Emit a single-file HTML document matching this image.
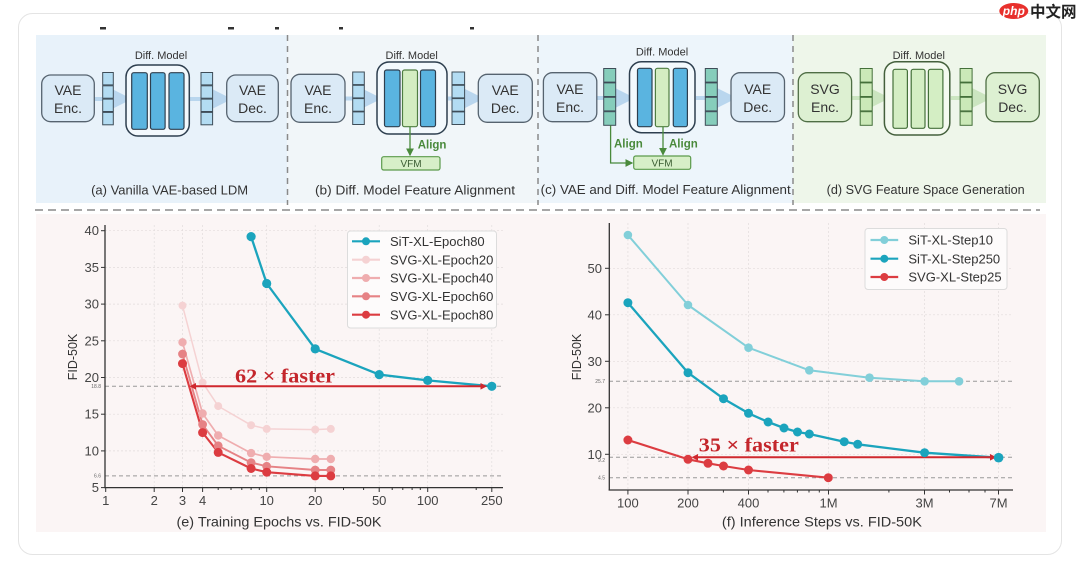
<!DOCTYPE html>
<html><head><meta charset="utf-8">
<style>
html,body{margin:0;padding:0;background:#fff;}
svg{display:block;}
text{font-family:"Liberation Sans","Noto Sans CJK SC",sans-serif;}
.tk{font-size:13px;fill:#444;}
.cap{font-size:12.5px;fill:#333;}
.lab{font-size:14px;fill:#333;}
.box{font-size:14px;fill:#333;text-anchor:middle;}
.dm{font-size:11px;fill:#333;text-anchor:middle;}
.al{font-size:11.5px;font-weight:bold;fill:#4a8a3c;}
.lg{font-size:13px;fill:#333;}
.sm{font-size:5px;fill:#666;}
.fast{font-family:"Liberation Serif","Noto Serif CJK SC",serif;font-weight:bold;font-size:20px;fill:#c4262c;}
</style></head>
<body>
<svg width="1080" height="567" viewBox="0 0 1080 567" xmlns="http://www.w3.org/2000/svg">
<defs>
<marker id="ahb" markerWidth="6" markerHeight="6" refX="4" refY="3" orient="auto"><path d="M0,0 L6,3 L0,6 z" fill="#b9d6ee"/></marker>
<marker id="ahg" markerWidth="6" markerHeight="6" refX="4" refY="3" orient="auto"><path d="M0,0 L6,3 L0,6 z" fill="#cbe5c0"/></marker>
<marker id="ahd" markerWidth="6" markerHeight="6" refX="5" refY="3" orient="auto"><path d="M0,0 L6,3 L0,6 z" fill="#4a8a3c"/></marker>
</defs>
<rect x="0" y="0" width="1080" height="567" fill="#fff"/>
<rect x="18.5" y="13.5" width="1043" height="541" rx="14" fill="#fff" stroke="#e4e4e4" stroke-width="1"/>

<g fill="#333">
<rect x="100" y="27" width="6" height="2.5"/><rect x="228" y="27" width="6" height="2.5"/>
<rect x="275" y="27" width="4" height="2.5"/><rect x="339" y="27" width="4" height="2.5"/>
<rect x="470" y="27" width="4" height="2.5"/>
</g>

<rect x="36" y="35" width="251" height="168" fill="#e8f2fa"/>
<rect x="287" y="35" width="251" height="168" fill="#f1f6f9"/>
<rect x="538" y="35" width="255" height="168" fill="#edf5fb"/>
<rect x="793" y="35" width="253" height="168" fill="#eef6ea"/>
<g stroke="#8a8a8a" stroke-width="1.5" stroke-dasharray="6,5">
<line x1="287.5" y1="35" x2="287.5" y2="205"/>
<line x1="538" y1="35" x2="538" y2="205"/>
<line x1="793" y1="35" x2="793" y2="205"/>
</g>
<line x1="35" y1="210" x2="1040" y2="210" stroke="#8a8a8a" stroke-width="1.6" stroke-dasharray="8,5"/>

<!-- (a) -->
<g>
<line x1="95" y1="99" x2="124" y2="99" stroke="#b9d6ee" stroke-width="4" marker-end="url(#ahb)"/>
<line x1="190" y1="99" x2="224" y2="99" stroke="#b9d6ee" stroke-width="4" marker-end="url(#ahb)"/>
<rect x="41.7" y="75" width="52.6" height="46.7" rx="9" fill="#dbeaf6" stroke="#56636f" stroke-width="1.3"/>
<text class="box" x="68" y="95">VAE</text><text class="box" x="68" y="113">Enc.</text>
<g fill="#b3dcf2" stroke="#3e4d58" stroke-width="1">
<rect x="102.7" y="72.5" width="10.6" height="12.4"/><rect x="102.7" y="85.8" width="10.6" height="12.4"/><rect x="102.7" y="99.1" width="10.6" height="12.4"/><rect x="102.7" y="112.4" width="10.6" height="12.4"/>
<rect x="201" y="72.5" width="11.6" height="12.4"/><rect x="201" y="85.8" width="11.6" height="12.4"/><rect x="201" y="99.1" width="11.6" height="12.4"/><rect x="201" y="112.4" width="11.6" height="12.4"/>
</g>
<rect x="126" y="65" width="63.3" height="71" rx="12" fill="#f3f9fd" stroke="#2e3f4f" stroke-width="1.5"/>
<g fill="#5ab4e0" stroke="#2e3f4f" stroke-width="1.2">
<rect x="131.7" y="72.7" width="15.6" height="56.6" rx="2"/><rect x="150.5" y="72.7" width="14.6" height="56.6" rx="2"/><rect x="169" y="72.7" width="15" height="56.6" rx="2"/>
</g>
<text class="dm" x="161" y="59">Diff. Model</text>
<rect x="226.7" y="75" width="51.6" height="46.7" rx="9" fill="#dbeaf6" stroke="#56636f" stroke-width="1.3"/>
<text class="box" x="252.5" y="95">VAE</text><text class="box" x="252.5" y="113">Dec.</text>
<text class="cap" x="169.6" y="194.5" text-anchor="middle" textLength="157" lengthAdjust="spacingAndGlyphs">(a) Vanilla VAE-based LDM</text>
</g>

<!-- (b) -->
<g>
<line x1="345" y1="98.5" x2="374" y2="98.5" stroke="#b9d6ee" stroke-width="4" marker-end="url(#ahb)"/>
<line x1="448" y1="98.5" x2="476" y2="98.5" stroke="#b9d6ee" stroke-width="4" marker-end="url(#ahb)"/>
<rect x="291" y="74.3" width="54" height="48" rx="9" fill="#dbeaf6" stroke="#56636f" stroke-width="1.3"/>
<text class="box" x="318" y="95">VAE</text><text class="box" x="318" y="113">Enc.</text>
<g fill="#b3dcf2" stroke="#3e4d58" stroke-width="1">
<rect x="352.7" y="72" width="11.6" height="12.6"/><rect x="352.7" y="85.3" width="11.6" height="12.6"/><rect x="352.7" y="98.6" width="11.6" height="12.6"/><rect x="352.7" y="111.9" width="11.6" height="12.6"/>
<rect x="452" y="72" width="12.6" height="12.6"/><rect x="452" y="85.3" width="12.6" height="12.6"/><rect x="452" y="98.6" width="12.6" height="12.6"/><rect x="452" y="111.9" width="12.6" height="12.6"/>
</g>
<rect x="377" y="62" width="70" height="72" rx="12" fill="#f3f9fd" stroke="#2e3f4f" stroke-width="1.5"/>
<rect x="384.5" y="70" width="15.5" height="56.7" rx="2" fill="#5ab4e0" stroke="#2e3f4f" stroke-width="1.2"/>
<rect x="402.5" y="70" width="15" height="56.7" rx="2" fill="#d4edc2" stroke="#4f7d42" stroke-width="1.2"/>
<rect x="420.5" y="70" width="15" height="56.7" rx="2" fill="#5ab4e0" stroke="#2e3f4f" stroke-width="1.2"/>
<text class="dm" x="411.7" y="59">Diff. Model</text>
<line x1="410" y1="126.7" x2="410" y2="155" stroke="#4a8a3c" stroke-width="1.3" marker-end="url(#ahd)"/>
<text class="al" x="417.7" y="148.5">Align</text>
<rect x="381.7" y="156.7" width="58.3" height="13.3" rx="2" fill="#d7efc8" stroke="#5b9a4b" stroke-width="1.2"/>
<text x="411" y="167" font-size="10" fill="#3b5d33" text-anchor="middle">VFM</text>
<rect x="478.3" y="74.3" width="54" height="48" rx="9" fill="#dbeaf6" stroke="#56636f" stroke-width="1.3"/>
<text class="box" x="505.3" y="95">VAE</text><text class="box" x="505.3" y="113">Dec.</text>
<text class="cap" x="415" y="194.5" text-anchor="middle" textLength="200" lengthAdjust="spacingAndGlyphs">(b) Diff. Model Feature Alignment</text>
</g>

<!-- (c) -->
<g>
<line x1="597" y1="98" x2="627" y2="98" stroke="#b9d6ee" stroke-width="4" marker-end="url(#ahb)"/>
<line x1="696" y1="98" x2="729" y2="98" stroke="#b9d6ee" stroke-width="4" marker-end="url(#ahb)"/>
<rect x="543.4" y="72.7" width="53.4" height="49" rx="9" fill="#dbeaf6" stroke="#56636f" stroke-width="1.3"/>
<text class="box" x="570" y="94">VAE</text><text class="box" x="570" y="112">Enc.</text>
<g fill="#86cdbb" stroke="#3e4d58" stroke-width="1">
<rect x="603.7" y="68.5" width="12" height="13.6"/><rect x="603.7" y="82.9" width="12" height="13.6"/><rect x="603.7" y="97.3" width="12" height="13.6"/><rect x="603.7" y="111.7" width="12" height="13.6"/>
<rect x="705.3" y="68.5" width="12" height="13.6"/><rect x="705.3" y="82.9" width="12" height="13.6"/><rect x="705.3" y="97.3" width="12" height="13.6"/><rect x="705.3" y="111.7" width="12" height="13.6"/>
</g>
<rect x="629.5" y="61.7" width="65.5" height="71" rx="12" fill="#f3f9fd" stroke="#2e3f4f" stroke-width="1.5"/>
<rect x="637.5" y="68.3" width="14.5" height="58.4" rx="2" fill="#5ab4e0" stroke="#2e3f4f" stroke-width="1.2"/>
<rect x="655.4" y="68.3" width="13.6" height="58.4" rx="2" fill="#d4edc2" stroke="#4f7d42" stroke-width="1.2"/>
<rect x="673.3" y="68.3" width="14.1" height="58.4" rx="2" fill="#5ab4e0" stroke="#2e3f4f" stroke-width="1.2"/>
<text class="dm" x="662" y="55.5">Diff. Model</text>
<polyline points="610.6,125.5 610.6,163 632,163" fill="none" stroke="#4a8a3c" stroke-width="1.3" marker-end="url(#ahd)"/>
<line x1="663" y1="126.7" x2="663" y2="154.5" stroke="#4a8a3c" stroke-width="1.3" marker-end="url(#ahd)"/>
<text class="al" x="614" y="147.5">Align</text>
<text class="al" x="669" y="147.5">Align</text>
<rect x="633.7" y="156" width="57" height="13.3" rx="2" fill="#d7efc8" stroke="#5b9a4b" stroke-width="1.2"/>
<text x="662" y="166.5" font-size="10" fill="#3b5d33" text-anchor="middle">VFM</text>
<rect x="731" y="72.7" width="53.5" height="49" rx="9" fill="#dbeaf6" stroke="#56636f" stroke-width="1.3"/>
<text class="box" x="757.7" y="94">VAE</text><text class="box" x="757.7" y="112">Dec.</text>
<text class="cap" x="665.7" y="194" text-anchor="middle" textLength="250" lengthAdjust="spacingAndGlyphs">(c) VAE and Diff. Model Feature Alignment</text>
</g>

<!-- (d) -->
<g>
<line x1="852" y1="98" x2="882" y2="98" stroke="#cbe5c0" stroke-width="4" marker-end="url(#ahg)"/>
<line x1="951" y1="98" x2="984" y2="98" stroke="#cbe5c0" stroke-width="4" marker-end="url(#ahg)"/>
<rect x="798.3" y="72.7" width="53.3" height="49" rx="9" fill="#ddf0d2" stroke="#4f6e45" stroke-width="1.3"/>
<text class="box" x="825" y="94">SVG</text><text class="box" x="825" y="112">Enc.</text>
<g fill="#cbe9b8" stroke="#44703a" stroke-width="1">
<rect x="860.2" y="68.5" width="12" height="13.6"/><rect x="860.2" y="82.9" width="12" height="13.6"/><rect x="860.2" y="97.3" width="12" height="13.6"/><rect x="860.2" y="111.7" width="12" height="13.6"/>
<rect x="960.1" y="68.5" width="12" height="13.6"/><rect x="960.1" y="82.9" width="12" height="13.6"/><rect x="960.1" y="97.3" width="12" height="13.6"/><rect x="960.1" y="111.7" width="12" height="13.6"/>
</g>
<rect x="884.4" y="61.7" width="65.4" height="73.3" rx="12" fill="#f4faf0" stroke="#44603c" stroke-width="1.5"/>
<g fill="#d4eec4" stroke="#44703a" stroke-width="1.2">
<rect x="893" y="69.3" width="14.4" height="59" rx="2"/><rect x="911.2" y="69.3" width="13.8" height="59" rx="2"/><rect x="928.4" y="69.3" width="14.5" height="59" rx="2"/>
</g>
<text class="dm" x="918.8" y="59">Diff. Model</text>
<rect x="986" y="72.7" width="53.3" height="49" rx="9" fill="#ddf0d2" stroke="#4f6e45" stroke-width="1.3"/>
<text class="box" x="1012.6" y="94">SVG</text><text class="box" x="1012.6" y="112">Dec.</text>
<text class="cap" x="925.7" y="194" text-anchor="middle" textLength="198" lengthAdjust="spacingAndGlyphs">(d) SVG Feature Space Generation</text>
</g>

<rect x="36" y="214" width="1010" height="318" fill="#fbf5f5"/>

<!-- ===== LEFT CHART ===== -->
<g stroke="#e2dcdc" stroke-width="0.7" stroke-dasharray="2,2">
<line x1="105" y1="230.7" x2="503" y2="230.7"/><line x1="105" y1="267.4" x2="503" y2="267.4"/>
<line x1="105" y1="304.1" x2="503" y2="304.1"/><line x1="105" y1="340.8" x2="503" y2="340.8"/>
<line x1="105" y1="377.5" x2="503" y2="377.5"/><line x1="105" y1="414.2" x2="503" y2="414.2"/>
<line x1="105" y1="450.9" x2="503" y2="450.9"/>
<line x1="154.2" y1="225" x2="154.2" y2="487"/><line x1="266.7" y1="225" x2="266.7" y2="487"/>
<line x1="315.2" y1="225" x2="315.2" y2="487"/><line x1="427.7" y1="225" x2="427.7" y2="487"/>
<line x1="182.5" y1="225" x2="182.5" y2="487"/><line x1="202.6" y1="225" x2="202.6" y2="487"/>
<line x1="379.2" y1="225" x2="379.2" y2="487"/><line x1="491.8" y1="225" x2="491.8" y2="487"/>
</g>
<g stroke="#999" stroke-width="1" stroke-dasharray="4,3">
<line x1="105" y1="386.3" x2="503" y2="386.3"/>
<line x1="105" y1="475.9" x2="503" y2="475.9"/>
</g>
<text class="sm" x="101" y="388" text-anchor="end">18.8</text>
<text class="sm" x="101" y="477.5" text-anchor="end">6.6</text>
<g stroke="#333" stroke-width="1.3">
<line x1="105" y1="225" x2="105" y2="488"/>
<line x1="104.4" y1="487.6" x2="503" y2="487.6"/>
</g>
<g stroke="#333" stroke-width="1">
<line x1="101" y1="230.7" x2="105" y2="230.7"/><line x1="101" y1="267.4" x2="105" y2="267.4"/><line x1="101" y1="304.1" x2="105" y2="304.1"/><line x1="101" y1="340.8" x2="105" y2="340.8"/><line x1="101" y1="377.5" x2="105" y2="377.5"/><line x1="101" y1="414.2" x2="105" y2="414.2"/><line x1="101" y1="450.9" x2="105" y2="450.9"/><line x1="101" y1="487.6" x2="105" y2="487.6"/>
<line x1="105.7" y1="487.6" x2="105.7" y2="492"/><line x1="154.2" y1="487.6" x2="154.2" y2="492"/><line x1="182.5" y1="487.6" x2="182.5" y2="492"/><line x1="202.6" y1="487.6" x2="202.6" y2="492"/><line x1="266.7" y1="487.6" x2="266.7" y2="492"/><line x1="315.2" y1="487.6" x2="315.2" y2="492"/><line x1="379.2" y1="487.6" x2="379.2" y2="492"/><line x1="427.7" y1="487.6" x2="427.7" y2="492"/><line x1="491.8" y1="487.6" x2="491.8" y2="492"/>
<line x1="218.2" y1="487.6" x2="218.2" y2="490"/><line x1="231" y1="487.6" x2="231" y2="490"/><line x1="241.8" y1="487.6" x2="241.8" y2="490"/><line x1="251.1" y1="487.6" x2="251.1" y2="490"/><line x1="259.3" y1="487.6" x2="259.3" y2="490"/><line x1="343.5" y1="487.6" x2="343.5" y2="490"/><line x1="363.6" y1="487.6" x2="363.6" y2="490"/><line x1="392.2" y1="487.6" x2="392.2" y2="490"/><line x1="402.8" y1="487.6" x2="402.8" y2="490"/><line x1="412.1" y1="487.6" x2="412.1" y2="490"/><line x1="420.3" y1="487.6" x2="420.3" y2="490"/><line x1="476.2" y1="487.6" x2="476.2" y2="490"/>
</g>
<g text-anchor="end">
<text class="tk" x="99" y="235.2">40</text><text class="tk" x="99" y="271.9">35</text><text class="tk" x="99" y="308.6">30</text><text class="tk" x="99" y="345.3">25</text><text class="tk" x="99" y="382">20</text><text class="tk" x="99" y="418.7">15</text><text class="tk" x="99" y="455.4">10</text><text class="tk" x="99" y="492.1">5</text>
</g>
<g text-anchor="middle">
<text class="tk" x="105.7" y="505">1</text><text class="tk" x="154.2" y="505">2</text><text class="tk" x="182.5" y="505">3</text><text class="tk" x="202.6" y="505">4</text><text class="tk" x="266.7" y="505">10</text><text class="tk" x="315.2" y="505">20</text><text class="tk" x="379.2" y="505">50</text><text class="tk" x="427.7" y="505">100</text><text class="tk" x="491.8" y="505">250</text>
</g>
<text class="lab" x="279" y="526.5" text-anchor="middle" textLength="205" lengthAdjust="spacingAndGlyphs">(e) Training Epochs vs. FID-50K</text>
<text x="77" y="357" font-size="12.5" fill="#333" text-anchor="middle" transform="rotate(-90 77 357)">FID-50K</text>

<g fill="none" stroke-linejoin="round">
<polyline points="182.5,305.6 202.6,382.6 218.2,406.1 251.1,425.2 266.7,428.9 315.2,429.6 330.8,428.9" stroke="#f5d2d3" stroke-width="1.5"/>
<polyline points="182.5,342.3 202.6,413.5 218.2,435.5 251.1,453.1 266.7,456.8 315.2,459 330.8,459" stroke="#efadaf" stroke-width="1.7"/>
<polyline points="182.5,354 202.6,424.5 218.2,445.8 251.1,462.6 266.7,466.3 315.2,470 330.8,470" stroke="#e68285" stroke-width="1.9"/>
<polyline points="182.5,363.6 202.6,432.6 218.2,452.4 251.1,468.5 266.7,472.2 315.2,475.9 330.8,475.9" stroke="#dc3c41" stroke-width="2.1"/>
<polyline points="251.1,236.6 266.7,283.5 315.2,348.9 379.2,374.6 427.7,380.4 491.8,386.3" stroke="#1ba4bd" stroke-width="2.3"/>
</g>
<g fill="#f5d2d3"><circle cx="182.5" cy="305.6" r="4"/><circle cx="202.6" cy="382.6" r="4"/><circle cx="218.2" cy="406.1" r="4"/><circle cx="251.1" cy="425.2" r="4"/><circle cx="266.7" cy="428.9" r="4"/><circle cx="315.2" cy="429.6" r="4"/><circle cx="330.8" cy="428.9" r="4"/></g>
<g fill="#efadaf"><circle cx="182.5" cy="342.3" r="4.2"/><circle cx="202.6" cy="413.5" r="4.2"/><circle cx="218.2" cy="435.5" r="4.2"/><circle cx="251.1" cy="453.1" r="4.2"/><circle cx="266.7" cy="456.8" r="4.2"/><circle cx="315.2" cy="459" r="4.2"/><circle cx="330.8" cy="459" r="4.2"/></g>
<g fill="#e68285"><circle cx="182.5" cy="354" r="4.4"/><circle cx="202.6" cy="424.5" r="4.4"/><circle cx="218.2" cy="445.8" r="4.4"/><circle cx="251.1" cy="462.6" r="4.4"/><circle cx="266.7" cy="466.3" r="4.4"/><circle cx="315.2" cy="470" r="4.4"/><circle cx="330.8" cy="470" r="4.4"/></g>
<g fill="#dc3c41"><circle cx="182.5" cy="363.6" r="4.5"/><circle cx="202.6" cy="432.6" r="4.5"/><circle cx="218.2" cy="452.4" r="4.5"/><circle cx="251.1" cy="468.5" r="4.5"/><circle cx="266.7" cy="472.2" r="4.5"/><circle cx="315.2" cy="475.9" r="4.5"/><circle cx="330.8" cy="475.9" r="4.5"/></g>
<g fill="#1ba4bd"><circle cx="251.1" cy="236.6" r="4.6"/><circle cx="266.7" cy="283.5" r="4.6"/><circle cx="315.2" cy="348.9" r="4.6"/><circle cx="379.2" cy="374.6" r="4.6"/><circle cx="427.7" cy="380.4" r="4.6"/><circle cx="491.8" cy="386.3" r="4.6"/></g>
<line x1="193" y1="386.3" x2="483" y2="386.3" stroke="#d0282e" stroke-width="2"/>
<path d="M189.5,386.3 L196,383 L196,389.6 z" fill="#d0282e"/>
<path d="M487,386.3 L480.5,383 L480.5,389.6 z" fill="#d0282e"/>
<text class="fast" x="235" y="382.5" textLength="100" lengthAdjust="spacingAndGlyphs">62 × faster</text>
<rect x="347.5" y="231" width="149" height="97" rx="3" fill="#fdfbfb" stroke="#dcdcdc" stroke-width="1"/>
<g stroke-width="2.2">
<line x1="352" y1="241.3" x2="380" y2="241.3" stroke="#1ba4bd"/><circle cx="366" cy="241.3" r="4" fill="#1ba4bd"/>
<line x1="352" y1="259.7" x2="380" y2="259.7" stroke="#f5d2d3"/><circle cx="366" cy="259.7" r="4" fill="#f5d2d3"/>
<line x1="352" y1="278" x2="380" y2="278" stroke="#efadaf"/><circle cx="366" cy="278" r="4" fill="#efadaf"/>
<line x1="352" y1="296.3" x2="380" y2="296.3" stroke="#e68285"/><circle cx="366" cy="296.3" r="4" fill="#e68285"/>
<line x1="352" y1="314.7" x2="380" y2="314.7" stroke="#dc3c41"/><circle cx="366" cy="314.7" r="4" fill="#dc3c41"/>
</g>
<text class="lg" x="390" y="246">SiT-XL-Epoch80</text>
<text class="lg" x="390" y="264.4">SVG-XL-Epoch20</text>
<text class="lg" x="390" y="282.7">SVG-XL-Epoch40</text>
<text class="lg" x="390" y="301">SVG-XL-Epoch60</text>
<text class="lg" x="390" y="319.4">SVG-XL-Epoch80</text>

<!-- ===== RIGHT CHART ===== -->
<g stroke="#e2dcdc" stroke-width="0.7" stroke-dasharray="2,2">
<line x1="609" y1="268.3" x2="1013" y2="268.3"/><line x1="609" y1="314.8" x2="1013" y2="314.8"/>
<line x1="609" y1="361.3" x2="1013" y2="361.3"/><line x1="609" y1="407.8" x2="1013" y2="407.8"/>
<line x1="609" y1="454.3" x2="1013" y2="454.3"/>
<line x1="627.9" y1="223" x2="627.9" y2="490"/><line x1="688" y1="223" x2="688" y2="490"/><line x1="748.5" y1="223" x2="748.5" y2="490"/><line x1="828.5" y1="223" x2="828.5" y2="490"/><line x1="924.5" y1="223" x2="924.5" y2="490"/><line x1="998.5" y1="223" x2="998.5" y2="490"/>
</g>
<g stroke="#999" stroke-width="1" stroke-dasharray="4,3">
<line x1="609" y1="381.3" x2="1013" y2="381.3"/>
<line x1="609" y1="457.3" x2="1013" y2="457.3"/>
<line x1="609" y1="477.7" x2="1013" y2="477.7"/>
</g>
<text class="sm" x="605" y="383" text-anchor="end">25.7</text>
<text class="sm" x="605" y="462" text-anchor="end">9.2</text>
<text class="sm" x="605" y="479.4" text-anchor="end">4.5</text>
<g stroke="#333" stroke-width="1.3">
<line x1="609.3" y1="223" x2="609.3" y2="490.5"/>
<line x1="608.7" y1="490" x2="1013" y2="490"/>
</g>
<g stroke="#333" stroke-width="1">
<line x1="605" y1="268.3" x2="609" y2="268.3"/><line x1="605" y1="314.8" x2="609" y2="314.8"/><line x1="605" y1="361.3" x2="609" y2="361.3"/><line x1="605" y1="407.8" x2="609" y2="407.8"/><line x1="605" y1="454.3" x2="609" y2="454.3"/>
<line x1="627.9" y1="490" x2="627.9" y2="494.5"/><line x1="688" y1="490" x2="688" y2="494.5"/><line x1="748.5" y1="490" x2="748.5" y2="494.5"/><line x1="828.5" y1="490" x2="828.5" y2="494.5"/><line x1="924.5" y1="490" x2="924.5" y2="494.5"/><line x1="998.5" y1="490" x2="998.5" y2="494.5"/>
<line x1="723.4" y1="490" x2="723.4" y2="492.5"/><line x1="768" y1="490" x2="768" y2="492.5"/><line x1="783.9" y1="490" x2="783.9" y2="492.5"/><line x1="797.4" y1="490" x2="797.4" y2="492.5"/><line x1="809" y1="490" x2="809" y2="492.5"/><line x1="819.3" y1="490" x2="819.3" y2="492.5"/><line x1="888.9" y1="490" x2="888.9" y2="492.5"/><line x1="949.5" y1="490" x2="949.5" y2="492.5"/><line x1="969" y1="490" x2="969" y2="492.5"/><line x1="985" y1="490" x2="985" y2="492.5"/>
</g>
<g text-anchor="end">
<text class="tk" x="602" y="272.8">50</text><text class="tk" x="602" y="319.3">40</text><text class="tk" x="602" y="365.8">30</text><text class="tk" x="602" y="412.3">20</text><text class="tk" x="602" y="458.8">10</text>
</g>
<g text-anchor="middle">
<text class="tk" x="627.9" y="507.5">100</text><text class="tk" x="688" y="507.5">200</text><text class="tk" x="748.5" y="507.5">400</text><text class="tk" x="828.5" y="507.5">1M</text><text class="tk" x="924.5" y="507.5">3M</text><text class="tk" x="998.5" y="507.5">7M</text>
</g>
<text class="lab" x="821.9" y="526.5" text-anchor="middle" textLength="200" lengthAdjust="spacingAndGlyphs">(f) Inference Steps vs. FID-50K</text>
<text x="581" y="357" font-size="12.5" fill="#333" text-anchor="middle" transform="rotate(-90 581 357)">FID-50K</text>

<g fill="none" stroke-linejoin="round">
<polyline points="627.9,235 688,305 748.5,347.7 809.3,370.3 869.5,377.7 924.6,381.3 959.1,381.3" stroke="#82cfd9" stroke-width="2"/>
<polyline points="627.9,302.7 688,372.7 723.5,398.7 748.5,413.3 768.1,422 784,428 797.5,432 809.3,434 844.2,441.7 857.7,444.3 924.6,452.7 998.6,457.7" stroke="#1ba4bd" stroke-width="2.3"/>
<polyline points="627.9,440 688,459.3 708,463.3 723.5,466 748.5,470 828.3,477.7" stroke="#dc3c41" stroke-width="2.1"/>
</g>
<g fill="#82cfd9"><circle cx="627.9" cy="235" r="4.3"/><circle cx="688" cy="305" r="4.3"/><circle cx="748.5" cy="347.7" r="4.3"/><circle cx="809.3" cy="370.3" r="4.3"/><circle cx="869.5" cy="377.7" r="4.3"/><circle cx="924.6" cy="381.3" r="4.3"/><circle cx="959.1" cy="381.3" r="4.3"/></g>
<line x1="695" y1="457.3" x2="993" y2="457.3" stroke="#d0282e" stroke-width="2"/>
<path d="M691.5,457.3 L698,454 L698,460.6 z" fill="#d0282e"/>
<path d="M996.5,457.3 L990,454 L990,460.6 z" fill="#d0282e"/>
<g fill="#1ba4bd"><circle cx="627.9" cy="302.7" r="4.5"/><circle cx="688" cy="372.7" r="4.5"/><circle cx="723.5" cy="398.7" r="4.5"/><circle cx="748.5" cy="413.3" r="4.5"/><circle cx="768.1" cy="422" r="4.5"/><circle cx="784" cy="428" r="4.5"/><circle cx="797.5" cy="432" r="4.5"/><circle cx="809.3" cy="434" r="4.5"/><circle cx="844.2" cy="441.7" r="4.5"/><circle cx="857.7" cy="444.3" r="4.5"/><circle cx="924.6" cy="452.7" r="4.5"/><circle cx="998.6" cy="457.7" r="4.8"/></g>
<g fill="#dc3c41"><circle cx="627.9" cy="440" r="4.5"/><circle cx="688" cy="459.3" r="4.5"/><circle cx="708" cy="463.3" r="4.5"/><circle cx="723.5" cy="466" r="4.5"/><circle cx="748.5" cy="470" r="4.5"/><circle cx="828.3" cy="477.7" r="4.5"/></g>
<text class="fast" x="698.8" y="451.5" textLength="100" lengthAdjust="spacingAndGlyphs">35 × faster</text>
<rect x="865" y="228.5" width="142" height="61" rx="3" fill="#fdfbfb" stroke="#dcdcdc" stroke-width="1"/>
<g stroke-width="2.2">
<line x1="870.5" y1="240" x2="898.2" y2="240" stroke="#82cfd9"/><circle cx="884.3" cy="240" r="4" fill="#82cfd9"/>
<line x1="870.5" y1="258.7" x2="898.2" y2="258.7" stroke="#1ba4bd"/><circle cx="884.3" cy="258.7" r="4" fill="#1ba4bd"/>
<line x1="870.5" y1="277" x2="898.2" y2="277" stroke="#dc3c41"/><circle cx="884.3" cy="277" r="4" fill="#dc3c41"/>
</g>
<text class="lg" x="908.4" y="244.7">SiT-XL-Step10</text>
<text class="lg" x="908.4" y="263.4">SiT-XL-Step250</text>
<text class="lg" x="908.4" y="281.7">SVG-XL-Step25</text>

<ellipse cx="1013.8" cy="11" rx="14.5" ry="8" fill="#e8302c"/>
<text x="1013.8" y="15" style="font-size:12px;font-style:italic;font-weight:bold;fill:#fff" text-anchor="middle">php</text>
<text x="1030" y="17" style="font-family:'Liberation Sans','Noto Sans CJK SC',sans-serif;font-size:15.5px;font-weight:bold;fill:#222">中文网</text>
</svg>
</body></html>
